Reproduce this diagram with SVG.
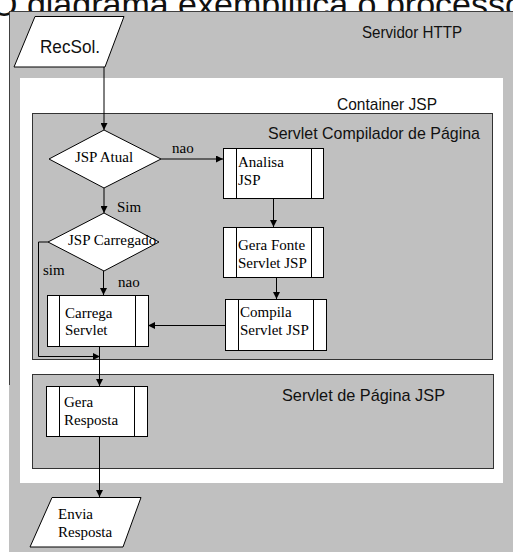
<svg xmlns="http://www.w3.org/2000/svg" width="513" height="555" viewBox="0 0 513 555">
<style>
.sans{font-family:"Liberation Sans",Arial,sans-serif;fill:#111}
.serif{font-family:"Liberation Serif","Times New Roman",serif;font-size:15px;fill:#000}
.box{fill:#fff;stroke:#000;stroke-width:1}
.bar{stroke:#000;stroke-width:1}
.zone{fill:#c0c0c0;stroke:#333;stroke-width:1}
.con{fill:none;stroke:#000;stroke-width:1}
</style>
<defs>
<marker id="ah" viewBox="0 0 8 8" refX="8" refY="4" markerWidth="7" markerHeight="7" markerUnits="userSpaceOnUse" orient="auto">
<path d="M0,0 L8,4 L0,8 Z" fill="#000"/>
</marker>
</defs>
<rect width="513" height="555" fill="#fff"/>
<text class="sans" x="-9" y="16" font-size="34">O diagrama exemplifica o processo</text>
<g id="servidor">
<rect x="9" y="11" width="504" height="541" fill="#c0c0c0"/>
<line x1="9" y1="11.5" x2="513" y2="11.5" stroke="#404040"/>
<line x1="9.5" y1="11" x2="9.5" y2="385" stroke="#404040"/>
<text class="sans" x="362" y="38" font-size="17" textLength="100" lengthAdjust="spacingAndGlyphs">Servidor HTTP</text>
</g>
<g id="container">
<rect x="20" y="78" width="483" height="405" fill="#fff"/>
<text class="sans" x="337" y="110" font-size="17" textLength="100" lengthAdjust="spacingAndGlyphs">Container JSP</text>
</g>
<g id="compilador">
<rect class="zone" x="32.5" y="113.5" width="460" height="246"/>
<text class="sans" x="268" y="139" font-size="17" textLength="212" lengthAdjust="spacingAndGlyphs">Servlet Compilador de Página</text>
</g>
<g id="paginajsp">
<rect class="zone" x="32.5" y="374.5" width="461" height="94"/>
<text class="sans" x="282" y="401" font-size="17" textLength="163" lengthAdjust="spacingAndGlyphs">Servlet de Página JSP</text>
</g>
<g id="connectors">
<line class="con" x1="104" y1="67" x2="104" y2="130" marker-end="url(#ah)"/>
<line class="con" x1="161" y1="159" x2="223" y2="159" marker-end="url(#ah)"/>
<line class="con" x1="104" y1="188" x2="104" y2="213" marker-end="url(#ah)"/>
<line class="con" x1="103.5" y1="271" x2="103.5" y2="295" marker-end="url(#ah)"/>
<polyline class="con" points="48,242 38.5,242 38.5,356.5 100,356.5" marker-end="url(#ah)"/>
<line class="con" x1="273.5" y1="198" x2="273.5" y2="227" marker-end="url(#ah)"/>
<line class="con" x1="276.5" y1="277" x2="276.5" y2="299" marker-end="url(#ah)"/>
<line class="con" x1="225" y1="325.5" x2="148" y2="325.5" marker-end="url(#ah)"/>
<line class="con" x1="99.5" y1="346" x2="99.5" y2="386" marker-end="url(#ah)"/>
<line class="con" x1="99.5" y1="436" x2="99.5" y2="497" marker-end="url(#ah)"/>
<text class="serif" x="172" y="153">nao</text>
<text class="serif" x="117" y="212">Sim</text>
<text class="serif" x="43" y="275">sim</text>
<text class="serif" x="118" y="287">nao</text>
</g>
<g id="recsol">
<polygon class="box" points="35,16.5 124,16.5 105,67 14,67"/>
<text class="sans" x="40" y="53" font-size="18" textLength="60" lengthAdjust="spacingAndGlyphs">RecSol.</text>
</g>
<g id="jspatual">
<polygon class="box" points="49,159 104,130 161,159 104,188"/>
<text class="serif" x="104" y="162" text-anchor="middle">JSP Atual</text>
</g>
<g id="jspcarregado">
<polygon class="box" points="48,242 104,213 159,242 104,271"/>
<text class="serif" x="68" y="245">JSP Carregado</text>
</g>
<g id="analisa">
<rect class="box" x="223.5" y="148.5" width="100" height="50"/>
<line class="bar" x1="236.5" y1="148.5" x2="236.5" y2="198.5"/>
<line class="bar" x1="311.5" y1="148.5" x2="311.5" y2="198.5"/>
<text class="serif" x="238" y="167">Analisa</text>
<text class="serif" x="238" y="185">JSP</text>
</g>
<g id="gerafonte">
<rect class="box" x="223.5" y="227.5" width="100" height="50"/>
<line class="bar" x1="236.5" y1="227.5" x2="236.5" y2="277.5"/>
<line class="bar" x1="311.5" y1="227.5" x2="311.5" y2="277.5"/>
<text class="serif" x="238" y="250">Gera Fonte</text>
<text class="serif" x="238" y="268">Servlet JSP</text>
</g>
<g id="compila">
<rect class="box" x="225.5" y="299.5" width="101" height="51"/>
<line class="bar" x1="238.5" y1="299.5" x2="238.5" y2="350.5"/>
<line class="bar" x1="313.5" y1="299.5" x2="313.5" y2="350.5"/>
<text class="serif" x="240" y="317">Compila</text>
<text class="serif" x="240" y="335">Servlet JSP</text>
</g>
<g id="carrega">
<rect class="box" x="47.5" y="295.5" width="101" height="51"/>
<line class="bar" x1="59.5" y1="295.5" x2="59.5" y2="346.5"/>
<line class="bar" x1="135.5" y1="295.5" x2="135.5" y2="346.5"/>
<text class="serif" x="65" y="318">Carrega</text>
<text class="serif" x="65" y="335">Servlet</text>
</g>
<g id="gerarresposta">
<rect class="box" x="46.5" y="386.5" width="101" height="50"/>
<line class="bar" x1="59.5" y1="386.5" x2="59.5" y2="436.5"/>
<line class="bar" x1="134.5" y1="386.5" x2="134.5" y2="436.5"/>
<text class="serif" x="64" y="407">Gera</text>
<text class="serif" x="64" y="425">Resposta</text>
</g>
<g id="envia">
<polygon class="box" points="52,497.5 141,497.5 123,547 30,547"/>
<text class="serif" x="58" y="519">Envia</text>
<text class="serif" x="58" y="537">Resposta</text>
</g>
</svg>
